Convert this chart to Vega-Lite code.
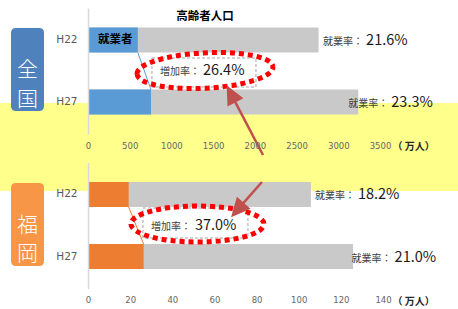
{
  "$schema": "https://vega.github.io/schema/vega-lite/v6.json",
  "background": "white",
  "padding": {"left": 0, "top": 8, "right": 0, "bottom": 0},
  "spacing": 28.5,
  "bounds": "flush",
  "datasets": {
    "zenkoku": [
      {"year": "H22", "employed": 597, "total": 2764, "rate": "21.6%"},
      {"year": "H27", "employed": 755, "total": 3240, "rate": "23.3%"}
    ],
    "fukuoka": [
      {"year": "H22", "employed": 19.3, "total": 105.8, "rate": "18.2%"},
      {"year": "H27", "employed": 26.4, "total": 125.8, "rate": "21.0%"}
    ],
    "growth": [
      {"area": "全国", "label": "増加率：", "rate": "26.4%"},
      {"area": "福岡", "label": "増加率：", "rate": "37.0%"}
    ],
    "areas": [
      {"area": "全国", "name": "全\n国"},
      {"area": "福岡", "name": "福\n岡"}
    ]
  },
  "vconcat": [
    {
      "width": 292,
      "height": 126,
      "layer": [
        {
          "data": {"values": [{"band": "highlight"}]},
          "mark": {"type": "point", "shape": "M-0.88,0.01H3.7V0.89H-0.88Z", "size": 40000, "filled": true, "fill": "#FFFF8C", "opacity": 1, "strokeWidth": 0},
          "encoding": {
            "x": {"datum": 0, "type": "quantitative"},
            "y": {"datum": "H27", "type": "nominal"}
          }
        },
        {
          "data": {"name": "zenkoku"},
          "mark": {"type": "bar", "color": "#C9C9C9"},
          "encoding": {
            "x": {
              "field": "total", "type": "quantitative",
              "scale": {"domain": [0, 3500], "nice": false, "zero": true},
              "axis": {
                "title": "（ 万人）", "values": [0, 500, 1000, 1500, 2000, 2500, 3000, 3500], "format": "d",
                "titleX": 304, "titleY": 12, "zindex": 2
              }
            },
            "y": {
              "field": "year", "type": "nominal",
              "scale": {"type": "band", "domain": ["H22", " ", "H27"], "paddingInner": 0.194, "paddingOuter": 0.629},
              "axis": {"title": null, "zindex": 2}
            }
          }
        },
        {
          "data": {"name": "zenkoku"},
          "mark": {"type": "bar", "color": "#5B9BD5"},
          "encoding": {
            "x": {"field": "employed", "type": "quantitative"},
            "y": {"field": "year", "type": "nominal"}
          }
        },
        {
          "data": {"name": "zenkoku"},
          "transform": [{"pivot": "year", "value": "employed"}],
          "mark": {"type": "rule", "color": "#5B9BD5", "strokeWidth": 1},
          "encoding": {
            "x": {"field": "H22", "type": "quantitative"},
            "x2": {"field": "H27"},
            "y": {"datum": "H22", "type": "nominal", "bandPosition": 1},
            "y2": {"datum": "H27", "bandPosition": 0}
          }
        },
        {
          "data": {"name": "zenkoku"},
          "transform": [{"filter": "datum.year === 'H22'"}],
          "mark": {"type": "text", "text": "就業者", "align": "left", "baseline": "middle", "dx": 10, "fontSize": 11.5, "fontWeight": "bold", "color": "#000000", "font": "Noto Sans CJK JP"},
          "encoding": {
            "x": {"datum": 0, "type": "quantitative"},
            "y": {"field": "year", "type": "nominal"}
          }
        },
        {
          "data": {"name": "zenkoku"},
          "transform": [{"filter": "datum.year === 'H22'"}],
          "mark": {"type": "text", "text": "就業率：", "align": "left", "baseline": "alphabetic", "dx": 4.5, "dy": 5, "fontSize": 10, "color": "#404040", "font": "Noto Sans CJK JP"},
          "encoding": {
            "x": {"field": "total", "type": "quantitative"},
            "y": {"field": "year", "type": "nominal"}
          }
        },
        {
          "data": {"name": "zenkoku"},
          "transform": [{"filter": "datum.year === 'H22'"}],
          "mark": {"type": "text", "align": "left", "baseline": "alphabetic", "dx": 47.5, "dy": 5, "fontSize": 14.5, "color": "#1A1A1A", "font": "Noto Sans CJK JP"},
          "encoding": {
            "x": {"field": "total", "type": "quantitative"},
            "y": {"field": "year", "type": "nominal"},
            "text": {"field": "rate"}
          }
        },
        {
          "data": {"name": "zenkoku"},
          "transform": [{"filter": "datum.year === 'H27'"}],
          "mark": {"type": "text", "text": "就業率：", "align": "left", "baseline": "alphabetic", "dx": -10, "dy": 5, "fontSize": 10, "color": "#404040", "font": "Noto Sans CJK JP"},
          "encoding": {
            "x": {"field": "total", "type": "quantitative"},
            "y": {"field": "year", "type": "nominal"}
          }
        },
        {
          "data": {"name": "zenkoku"},
          "transform": [{"filter": "datum.year === 'H27'"}],
          "mark": {"type": "text", "align": "left", "baseline": "alphabetic", "dx": 33, "dy": 5, "fontSize": 14.5, "color": "#1A1A1A", "font": "Noto Sans CJK JP"},
          "encoding": {
            "x": {"field": "total", "type": "quantitative"},
            "y": {"field": "year", "type": "nominal"},
            "text": {"field": "rate"}
          }
        },
        {
          "data": {"values": [{"title": "高齢者人口"}]},
          "mark": {"type": "text", "align": "center", "baseline": "middle", "dy": -23, "fontSize": 11.5, "fontWeight": "bold", "color": "#000000", "font": "Noto Sans CJK JP"},
          "encoding": {
            "x": {"datum": 1402, "type": "quantitative"},
            "y": {"datum": "H22", "type": "nominal"},
            "text": {"field": "title"}
          }
        },
        {
          "data": {"name": "areas"},
          "transform": [{"filter": "datum.area === '全国'"}],
          "mark": {"type": "point", "shape": "M-0.115,-0.43H0.115Q0.165,-0.43 0.165,-0.38V0.35Q0.165,0.4 0.115,0.4H-0.115Q-0.165,0.4 -0.165,0.35V-0.38Q-0.165,-0.43 -0.115,-0.43Z", "size": 40000, "filled": true, "fill": "#4F81BD", "opacity": 1, "strokeWidth": 0},
          "encoding": {
            "x": {"datum": -725, "type": "quantitative"},
            "y": {"datum": " ", "type": "nominal"}
          }
        },
        {
          "data": {"name": "areas"},
          "transform": [{"filter": "datum.area === '全国'"}],
          "mark": {"type": "text", "align": "center", "baseline": "middle", "lineBreak": "\n", "lineHeight": 30, "dy": -1, "fontSize": 21, "fontWeight": 300, "color": "#FFFFFF", "font": "Noto Sans CJK JP"},
          "encoding": {
            "x": {"datum": -725, "type": "quantitative"},
            "y": {"datum": " ", "type": "nominal"},
            "text": {"field": "name"}
          }
        },
        {
          "data": {"name": "growth"},
          "transform": [{"filter": "datum.area === '全国'"}],
          "mark": {"type": "point", "shape": "M-0.53,-0.13H0.51V0.16H-0.53Z", "size": 40000, "filled": false, "opacity": 1, "stroke": "#A6A6A6", "strokeWidth": 1, "strokeDash": [3, 2]},
          "encoding": {
            "x": {"datum": 1402, "type": "quantitative"},
            "y": {"datum": " ", "type": "nominal"}
          }
        },
        {
          "data": {"name": "growth"},
          "transform": [{"filter": "datum.area === '全国'"}],
          "mark": {"type": "point", "shape": "M-0.679,0.031A0.68,0.175 -3 1,0 0.679,-0.041A0.68,0.175 -3 1,0 -0.679,0.031Z", "size": 40000, "filled": false, "opacity": 1, "stroke": "#FF0000", "strokeWidth": 5, "strokeDash": [5, 4]},
          "encoding": {
            "x": {"datum": 1402, "type": "quantitative"},
            "y": {"datum": " ", "type": "nominal"}
          }
        },
        {
          "data": {"name": "growth"},
          "transform": [{"filter": "datum.area === '全国'"}],
          "mark": {"type": "text", "align": "left", "baseline": "alphabetic", "dx": -45, "dy": 4, "fontSize": 10, "color": "#404040", "font": "Noto Sans CJK JP"},
          "encoding": {
            "x": {"datum": 1402, "type": "quantitative"},
            "y": {"datum": " ", "type": "nominal"},
            "text": {"field": "label"}
          }
        },
        {
          "data": {"name": "growth"},
          "transform": [{"filter": "datum.area === '全国'"}],
          "mark": {"type": "text", "align": "left", "baseline": "alphabetic", "dx": -2, "dy": 4, "fontSize": 14.5, "color": "#1A1A1A", "font": "Noto Sans CJK JP"},
          "encoding": {
            "x": {"datum": 1402, "type": "quantitative"},
            "y": {"datum": " ", "type": "nominal"},
            "text": {"field": "rate"}
          }
        },
        {
          "data": {"values": [{"arrow": "up"}]},
          "mark": {"type": "point", "shape": "M0.35,0.53L0.069,-0.007M0,-0.14L0.131,-0.039L0.007,0.025Z", "size": 40000, "filled": true, "opacity": 1, "fill": "#C0504D", "stroke": "#C0504D", "strokeWidth": 2.5},
          "encoding": {
            "x": {"datum": 1678, "type": "quantitative"},
            "y": {"datum": "H27", "type": "nominal"}
          }
        }
      ]
    },
    {
      "width": 295,
      "height": 126,
      "layer": [
        {
          "data": {"name": "fukuoka"},
          "mark": {"type": "bar", "color": "#C9C9C9"},
          "encoding": {
            "x": {
              "field": "total", "type": "quantitative",
              "scale": {"domain": [0, 140], "nice": false, "zero": true},
              "axis": {
                "title": "（ 万人）", "values": [0, 20, 40, 60, 80, 100, 120, 140], "format": "d",
                "titleX": 304, "titleY": 12.5, "zindex": 2
              }
            },
            "y": {
              "field": "year", "type": "nominal",
              "scale": {"type": "band", "domain": ["H22", " ", "H27"], "paddingInner": 0.194, "paddingOuter": 0.629},
              "axis": {"title": null, "zindex": 2}
            }
          }
        },
        {
          "data": {"name": "fukuoka"},
          "mark": {"type": "bar", "color": "#ED7D31"},
          "encoding": {
            "x": {"field": "employed", "type": "quantitative"},
            "y": {"field": "year", "type": "nominal"}
          }
        },
        {
          "data": {"name": "fukuoka"},
          "transform": [{"pivot": "year", "value": "employed"}],
          "mark": {"type": "rule", "color": "#ED7D31", "strokeWidth": 1},
          "encoding": {
            "x": {"field": "H22", "type": "quantitative"},
            "x2": {"field": "H27"},
            "y": {"datum": "H22", "type": "nominal", "bandPosition": 1},
            "y2": {"datum": "H27", "bandPosition": 0}
          }
        },
        {
          "data": {"name": "fukuoka"},
          "transform": [{"filter": "datum.year === 'H22'"}],
          "mark": {"type": "text", "text": "就業率：", "align": "left", "baseline": "alphabetic", "dx": 4, "dy": 5, "fontSize": 10, "color": "#404040", "font": "Noto Sans CJK JP"},
          "encoding": {
            "x": {"field": "total", "type": "quantitative"},
            "y": {"field": "year", "type": "nominal"}
          }
        },
        {
          "data": {"name": "fukuoka"},
          "transform": [{"filter": "datum.year === 'H22'"}],
          "mark": {"type": "text", "align": "left", "baseline": "alphabetic", "dx": 47, "dy": 5, "fontSize": 14.5, "color": "#1A1A1A", "font": "Noto Sans CJK JP"},
          "encoding": {
            "x": {"field": "total", "type": "quantitative"},
            "y": {"field": "year", "type": "nominal"},
            "text": {"field": "rate"}
          }
        },
        {
          "data": {"name": "fukuoka"},
          "transform": [{"filter": "datum.year === 'H27'"}],
          "mark": {"type": "text", "text": "就業率：", "align": "left", "baseline": "alphabetic", "dx": -1.5, "dy": 5, "fontSize": 10, "color": "#404040", "font": "Noto Sans CJK JP"},
          "encoding": {
            "x": {"field": "total", "type": "quantitative"},
            "y": {"field": "year", "type": "nominal"}
          }
        },
        {
          "data": {"name": "fukuoka"},
          "transform": [{"filter": "datum.year === 'H27'"}],
          "mark": {"type": "text", "align": "left", "baseline": "alphabetic", "dx": 41.5, "dy": 5, "fontSize": 14.5, "color": "#1A1A1A", "font": "Noto Sans CJK JP"},
          "encoding": {
            "x": {"field": "total", "type": "quantitative"},
            "y": {"field": "year", "type": "nominal"},
            "text": {"field": "rate"}
          }
        },
        {
          "data": {"name": "areas"},
          "transform": [{"filter": "datum.area === '福岡'"}],
          "mark": {"type": "point", "shape": "M-0.115,-0.425H0.115Q0.165,-0.425 0.165,-0.375V0.355Q0.165,0.405 0.115,0.405H-0.115Q-0.165,0.405 -0.165,0.355V-0.375Q-0.165,-0.425 -0.115,-0.425Z", "size": 40000, "filled": true, "fill": "#F79646", "opacity": 1, "strokeWidth": 0},
          "encoding": {
            "x": {"datum": -28.7, "type": "quantitative"},
            "y": {"datum": " ", "type": "nominal"}
          }
        },
        {
          "data": {"name": "areas"},
          "transform": [{"filter": "datum.area === '福岡'"}],
          "mark": {"type": "text", "align": "center", "baseline": "middle", "lineBreak": "\n", "lineHeight": 28, "dy": 0.5, "fontSize": 21, "fontWeight": 300, "color": "#FFFFFF", "font": "Noto Sans CJK JP"},
          "encoding": {
            "x": {"datum": -28.7, "type": "quantitative"},
            "y": {"datum": " ", "type": "nominal"},
            "text": {"field": "name"}
          }
        },
        {
          "data": {"name": "growth"},
          "transform": [{"filter": "datum.area === '福岡'"}],
          "mark": {"type": "point", "shape": "M-0.54,-0.175H0.51V0.125H-0.54Z", "size": 40000, "filled": false, "opacity": 1, "stroke": "#A6A6A6", "strokeWidth": 1, "strokeDash": [3, 2]},
          "encoding": {
            "x": {"datum": 51.7, "type": "quantitative"},
            "y": {"datum": " ", "type": "nominal"}
          }
        },
        {
          "data": {"name": "growth"},
          "transform": [{"filter": "datum.area === '福岡'"}],
          "mark": {"type": "point", "shape": "M-0.66,-0.015A0.665,0.18 0 1,0 0.67,-0.015A0.665,0.18 0 1,0 -0.66,-0.015Z", "size": 40000, "filled": false, "opacity": 1, "stroke": "#FF0000", "strokeWidth": 5, "strokeDash": [5, 4]},
          "encoding": {
            "x": {"datum": 51.7, "type": "quantitative"},
            "y": {"datum": " ", "type": "nominal"}
          }
        },
        {
          "data": {"name": "growth"},
          "transform": [{"filter": "datum.area === '福岡'"}],
          "mark": {"type": "text", "align": "left", "baseline": "alphabetic", "dx": -46, "dy": 4, "fontSize": 10, "color": "#404040", "font": "Noto Sans CJK JP"},
          "encoding": {
            "x": {"datum": 51.7, "type": "quantitative"},
            "y": {"datum": " ", "type": "nominal"},
            "text": {"field": "label"}
          }
        },
        {
          "data": {"name": "growth"},
          "transform": [{"filter": "datum.area === '福岡'"}],
          "mark": {"type": "text", "align": "left", "baseline": "alphabetic", "dx": -2, "dy": 4, "fontSize": 14.5, "color": "#1A1A1A", "font": "Noto Sans CJK JP"},
          "encoding": {
            "x": {"datum": 51.7, "type": "quantitative"},
            "y": {"datum": " ", "type": "nominal"},
            "text": {"field": "rate"}
          }
        },
        {
          "data": {"values": [{"arrow": "down"}]},
          "mark": {"type": "point", "shape": "M0.29,-0.435L0.099,-0.218M0,-0.105L0.152,-0.172L0.046,-0.264Z", "size": 40000, "filled": true, "opacity": 1, "fill": "#C0504D", "stroke": "#C0504D", "strokeWidth": 2.5},
          "encoding": {
            "x": {"datum": 68.8, "type": "quantitative"},
            "y": {"datum": " ", "type": "nominal"}
          }
        }
      ]
    }
  ],
  "config": {
    "view": {"stroke": null},
    "font": "Noto Sans CJK JP",
    "axisX": {
      "domain": false, "ticks": false, "grid": false, "labelFlush": false, "labelOverlap": false,
      "labelPadding": 7, "labelFont": "DejaVu Sans", "labelFontSize": 8.5, "labelColor": "#666666",
      "titleAlign": "left", "titleBaseline": "middle", "titleAngle": 0,
      "titleFont": "Noto Sans CJK JP", "titleFontSize": 10, "titleFontWeight": "bold", "titleColor": "#262626"
    },
    "axisY": {
      "domainColor": "#D9D9D9", "domainWidth": 1.5, "ticks": false, "grid": false,
      "labelPadding": 11, "labelFont": "DejaVu Sans", "labelFontSize": 10.5, "labelColor": "#595959"
    }
  }
}
